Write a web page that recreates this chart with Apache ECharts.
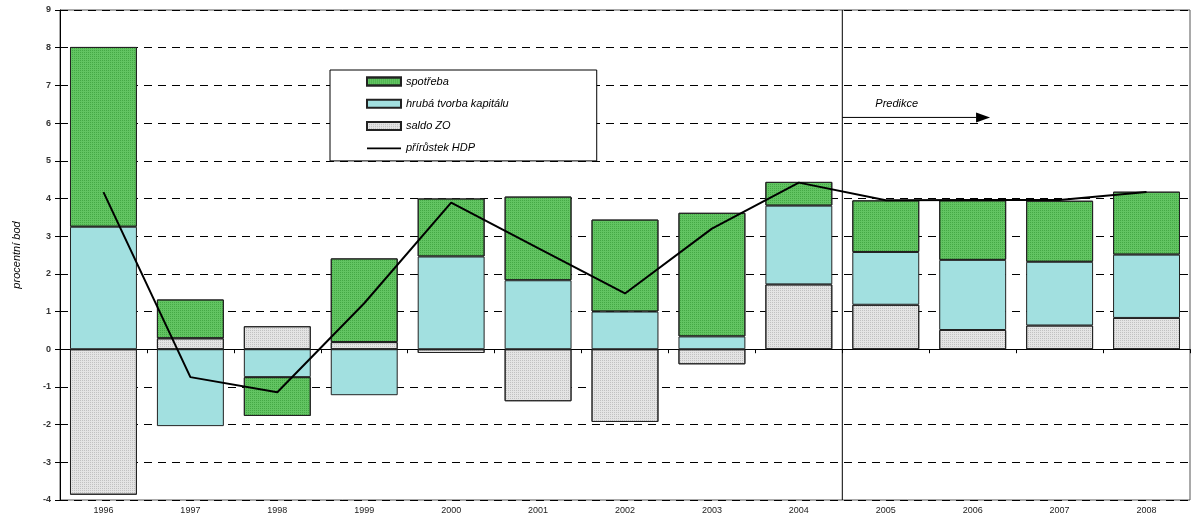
<!DOCTYPE html>
<html>
<head>
<meta charset="utf-8">
<script src="https://cdn.jsdelivr.net/npm/echarts@6/dist/echarts.min.js"></script>
<style>
html,body{margin:0;padding:0;background:#fff;}
#c{width:1196px;height:515px;}
</style>
</head>
<body>
<div id="c"></div>
<script>
const years = ['1996','1997','1998','1999','2000','2001','2002','2003','2004','2005','2006','2007','2008'];
const spotreba = [4.77, 1.03, -1.03, 2.22, 1.54, 2.22, 2.44, 3.28, 0.63, 1.37, 1.58, 1.62, 1.67];
const hruba    = [3.25, -2.04, -0.74, -1.22, 2.46, 1.83, 1.00, 0.34, 2.09, 1.40, 1.86, 1.69, 1.68];
const saldo    = [-3.86, 0.29, 0.61, 0.19, -0.10, -1.38, -1.93, -0.40, 1.72, 1.18, 0.51, 0.63, 0.83];
const hdp      = [4.17, -0.74, -1.14, 1.22, 3.89, 2.68, 1.48, 3.20, 4.42, 3.95, 3.96, 3.96, 4.17];
const yMin = -4, yMax = 9, yStep = 1;
const predStart = 8.5, predEnd = 10.2, predY = 6.15, predTextY = 6.5;

const FONT = 'Liberation Sans, Arial, sans-serif';
const chart = echarts.init(document.getElementById('c'), null, {renderer:'canvas'});

const barBase = {
  type:'bar', stack:'a', barWidth:'77%',
  xAxisIndex:0, yAxisIndex:0
};
const lineIcon = 'path://M0,0L0.01,0L0.01,0.01Z M0,3.2L34,3.2L34,4.8L0,4.8Z M33.99,8L34,8L34,7.99Z';

chart.setOption({
  animation:false,
  backgroundColor:'#fff',
  grid:{left:60, right:6, top:10, bottom:13, show:true, borderColor:'#555', borderWidth:1, containLabel:false},
  legend:{
    orient:'vertical', left:330, top:70,
    data:[
      {name:'spotřeba', icon:'rect'},
      {name:'hrubá tvorba kapitálu', icon:'rect'},
      {name:'saldo ZO', icon:'rect'},
      {name:'přírůstek HDP', icon:lineIcon}
    ],
    backgroundColor:'#fff', borderColor:'#000', borderWidth:1,
    padding:[6, 88, 7, 36], itemGap:11.3, itemWidth:34, itemHeight:8,
    textStyle:{fontFamily:FONT, fontStyle:'italic', fontSize:11, color:'#000'},
    selectedMode:false
  },
  xAxis:[
    {type:'category', data:years, position:'bottom', boundaryGap:true,
     axisLine:{onZero:true, lineStyle:{color:'#000', width:1}},
     axisTick:{show:true, length:4, lineStyle:{color:'#000'}},
     axisLabel:{show:false}, splitLine:{show:false}},
    {type:'category', data:years, position:'bottom', boundaryGap:true,
     axisLine:{show:false, onZero:false}, axisTick:{show:false},
     axisLabel:{show:true, margin:6, fontFamily:FONT, fontSize:9, color:'#222'}},
    {type:'value', min:-0.5, max:12.5, show:false, axisLine:{onZero:false}}
  ],
  yAxis:[{
    type:'value', min:yMin, max:yMax, interval:yStep,
    name:'procentní bod', nameLocation:'middle', nameGap:38, nameRotate:90,
    nameTextStyle:{fontFamily:FONT, fontStyle:'italic', fontSize:11, color:'#000'},
    axisLine:{show:true, onZero:false, lineStyle:{color:'#000', width:1}},
    axisTick:{show:true, length:5, lineStyle:{color:'#000'}},
    axisLabel:{margin:9, fontFamily:FONT, fontSize:9, fontWeight:'bold', color:'#333'},
    splitLine:{show:true, lineStyle:{color:'#000', width:1, type:[8,6]}}
  }],
  series:[
    Object.assign({}, barBase, {name:'saldo ZO', data:saldo,
      itemStyle:{color:'#e4e4e4', borderColor:'#222', borderWidth:1,
        decal:{symbol:'rect', symbolSize:1, dashArrayX:[1,1], dashArrayY:[1,1], color:'rgba(150,150,150,0.45)'}}}),
    Object.assign({}, barBase, {name:'hrubá tvorba kapitálu', data:hruba,
      itemStyle:{color:'#a2e0e0', borderColor:'#222', borderWidth:1}}),
    Object.assign({}, barBase, {name:'spotřeba', data:spotreba,
      itemStyle:{color:'#62c462', borderColor:'#222', borderWidth:1,
        decal:{symbol:'rect', symbolSize:1, dashArrayX:[1,1], dashArrayY:[1,1], color:'rgba(40,140,40,0.5)'}}}),
    {name:'přírůstek HDP', type:'line', data:hdp, xAxisIndex:0, yAxisIndex:0,
     symbol:'none', lineStyle:{color:'#000', width:2}, itemStyle:{color:'#000'}, z:5}
  ]
});

function addGraphics(){
  const xs = chart.convertToPixel({xAxisIndex:2}, predStart);
  const xe = chart.convertToPixel({xAxisIndex:2}, predEnd);
  const yTop = chart.convertToPixel({yAxisIndex:0}, yMax);
  const yBot = chart.convertToPixel({yAxisIndex:0}, yMin);
  const ya = chart.convertToPixel({yAxisIndex:0}, predY);
  const yt = chart.convertToPixel({yAxisIndex:0}, predTextY);
  chart.setOption({graphic:[
    {type:'line', shape:{x1:xs, y1:yTop, x2:xs, y2:yBot}, style:{stroke:'#000', lineWidth:1}, z:10},
    {type:'line', shape:{x1:xs, y1:ya, x2:xe-14, y2:ya}, style:{stroke:'#000', lineWidth:1}, z:10},
    {type:'polygon', shape:{points:[[xe-14, ya-5],[xe, ya],[xe-14, ya+5]]}, style:{fill:'#000'}, z:10},
    {type:'text', x:xs+33, y:yt, style:{text:'Predikce', font:'italic 11px Liberation Sans, Arial, sans-serif', fill:'#000', textVerticalAlign:'middle'}, z:10}
  ]});
}
addGraphics();
</script>
</body>
</html>
